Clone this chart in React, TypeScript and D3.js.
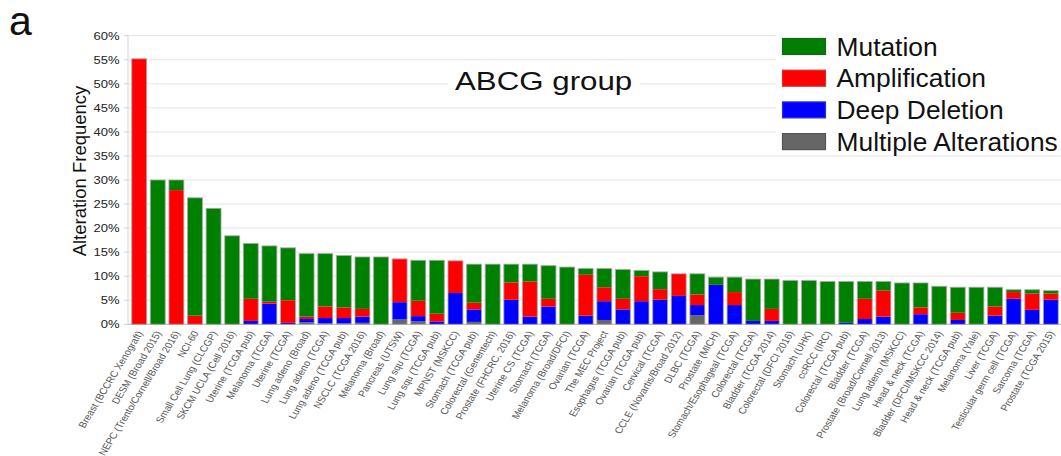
import React from "react";
import * as d3 from "d3";

// Cancer studies, ordered by total alteration frequency
const studies = [
  "Breast (BCCRC Xenograft)", "DESM (Broad 2015)", "NEPC (Trento/Cornell/Broad 2016)", "NCI-60",
  "Small Cell Lung (CLCGP)", "SKCM UCLA (Cell 2016)", "Uterine (TCGA pub)", "Melanoma (TCGA)",
  "Uterine (TCGA)", "Lung adeno (Broad)", "Lung adeno (TCGA)", "Lung adeno (TCGA pub)",
  "NSCLC (TCGA 2016)", "Melanoma (Broad)", "Pancreas (UTSW)", "Lung squ (TCGA)",
  "Lung squ (TCGA pub)", "MPNST (MSKCC)", "Stomach (TCGA pub)", "Colorectal (Genentech)",
  "Prostate (FHCRC, 2016)", "Uterine CS (TCGA)", "Stomach (TCGA)", "Melanoma (Broad/DFCI)",
  "Ovarian (TCGA)", "The MEC Project", "Esophagus (TCGA pub)", "Ovarian (TCGA pub)",
  "Cervical (TCGA)", "CCLE (Novartis/Broad 2012)", "DLBC (TCGA)", "Prostate (MICH)",
  "Stomach/Esophageal (TCGA)", "Colorectal (TCGA)", "Bladder (TCGA 2014)", "Colorectal (DFCI 2016)",
  "Stomach (UHK)", "ccRCC (IRC)", "Colorectal (TCGA pub)", "Bladder (TCGA)",
  "Prostate (Broad/Cornell 2013)", "Lung adeno (MSKCC)", "Head & neck (TCGA)", "Bladder (DFCI/MSKCC 2014)",
  "Head & neck (TCGA pub)", "Melanoma (Yale)", "Liver (TCGA)", "Testicular germ cell (TCGA)",
  "Sarcoma (TCGA)", "Prostate (TCGA 2015)",
];

// Alteration frequencies in percent
const mutation = [
  0, 30.0, 2.1, 24.5, 24.1, 18.4, 11.5, 11.6, 10.9, 13.1,
  11.0, 10.8, 10.8, 14.0, 0, 8.4, 11.1, 0, 8.0, 12.5,
  3.8, 3.6, 6.9, 11.9, 1.3, 3.9, 6.1, 1.2, 3.6, 0,
  4.3, 1.6, 3.1, 8.7, 6.2, 9.1, 9.1, 8.9, 8.6, 3.6,
  1.9, 8.6, 5.1, 7.9, 5.3, 7.7, 4.0, 0.5, 0.8, 0.6,
];
const amplification = [
  55.2, 0, 27.9, 1.8, 0, 0, 4.6, 0.4, 4.7, 0.5,
  2.4, 2.2, 1.6, 0, 9.0, 3.2, 1.6, 6.7, 1.4, 0,
  3.6, 7.3, 1.6, 0, 8.5, 2.9, 2.2, 5.2, 2.2, 4.6,
  2.2, 0, 2.7, 0, 2.5, 0, 0, 0, 0, 4.2,
  5.4, 0, 1.4, 0, 1.5, 0, 1.9, 1.4, 3.4, 1.3,
];
const deepDeletion = [
  0, 0, 0, 0, 0, 0, 0.7, 4.3, 0.3, 0.7,
  1.1, 1.1, 1.3, 0, 3.6, 1.1, 0.6, 6.5, 2.6, 0,
  5.1, 1.6, 3.7, 0, 1.8, 3.9, 3.1, 4.8, 5.1, 5.9,
  2.1, 8.2, 4.0, 0.7, 0.7, 0, 0, 0, 0.3, 1.1,
  1.6, 0, 2.1, 0, 0.9, 0, 1.8, 5.3, 3.0, 5.1,
];
const multipleAlterations = [
  0, 0, 0, 0, 0, 0, 0, 0, 0, 0.4,
  0.2, 0.2, 0.3, 0, 1.0, 0.6, 0, 0, 0.5, 0,
  0, 0, 0, 0, 0, 0.9, 0, 0, 0, 0,
  1.9, 0, 0, 0, 0, 0, 0, 0, 0, 0,
  0, 0, 0, 0, 0, 0, 0, 0, 0, 0,
];

const yTicks = [0, 5, 10, 15, 20, 25, 30, 35, 40, 45, 50, 55, 60];

const seriesKeys = ["multiple", "deletion", "amplification", "mutation"] as const;
const seriesColor: Record<string, string> = {
  mutation: "#008000",
  amplification: "#ff0000",
  deletion: "#0000ff",
  multiple: "#666666",
};
const legendItems = [
  { key: "mutation", label: "Mutation", fill: "#008000", stroke: "#1f5f1f" },
  { key: "amplification", label: "Amplification", fill: "#ff0000", stroke: "#cc3333" },
  { key: "deletion", label: "Deep Deletion", fill: "#0000ff", stroke: "#3333cc" },
  { key: "multiple", label: "Multiple Alterations", fill: "#666666", stroke: "#555555" },
];

const W = 1061;
const H = 456;
const FONT = "'Liberation Sans', Arial, Helvetica, sans-serif";

export default function App() {
  const rows = studies.map((s, i) => ({
    study: s,
    mutation: mutation[i],
    amplification: amplification[i],
    deletion: deepDeletion[i],
    multiple: multipleAlterations[i],
  }));

  const x = d3.scaleBand<string>().domain(studies).range([128, 1062]).paddingInner(0.2).paddingOuter(0.2);
  const y = d3.scaleLinear().domain([0, 60]).range([324.3, 35.7]);

  const stacked = d3.stack<any>().keys(seriesKeys as unknown as string[])(rows);
  const bw = x.bandwidth();
  const axisX = 128;

  return (
    <svg
      width={W}
      height={H}
      style={{ position: "absolute", left: 0, top: 0, display: "block", background: "#fff" }}
      fontFamily={FONT}
    >
      <rect x={0} y={0} width={W} height={H} fill="#fff" />

      {/* grid lines */}
      {yTicks.map((t) => (
        <line key={`g${t}`} x1={axisX} x2={W} y1={y(t)} y2={y(t)} stroke={t === 0 ? "#b5b5b5" : "#e6e6e6"} strokeWidth={1} />
      ))}
      <line x1={axisX} x2={axisX} y1={y(60)} y2={y(0)} stroke="#d6d6d6" strokeWidth={1} />

      {/* y ticks */}
      {yTicks.map((t) => (
        <g key={`t${t}`}>
          <line x1={axisX - 4} x2={axisX} y1={y(t)} y2={y(t)} stroke="#d0d0d0" />
          <text
            transform={`translate(119.5,${y(t)}) scale(1.18,1)`}
            textAnchor="end"
            dy="0.36em"
            fontSize={11}
            fill="#222"
          >
            {t}%
          </text>
        </g>
      ))}

      <text transform="translate(86,171) rotate(-90)" textAnchor="middle" fontSize={18.5} fill="#111">
        Alteration Frequency
      </text>

      {/* stacked bars */}
      {stacked.map((layer) => (
        <g key={layer.key} fill={seriesColor[layer.key]}>
          {layer.map((d, i) =>
            d[1] - d[0] > 0 ? (
              <rect
                key={i}
                x={x(studies[i])}
                y={y(d[1])}
                width={bw}
                height={y(d[0]) - y(d[1])}
              />
            ) : null
          )}
        </g>
      ))}
      {rows.map((r) => {
        const total = r.mutation + r.amplification + r.deletion + r.multiple;
        return (
          <rect
            key={`o${r.study}`}
            x={x(r.study)}
            y={y(total)}
            width={bw}
            height={y(0) - y(total)}
            fill="none"
            stroke="#a8a8a8"
            strokeOpacity={0.8}
            strokeWidth={1}
          />
        );
      })}

      {/* x labels */}
      {studies.map((s) => (
        <text
          key={`l${s}`}
          transform={`translate(${(x(s) as number) + bw / 2 + 4},333) scale(1.18,1) rotate(-62.5)`}
          textAnchor="end"
          fontSize={9}
          fill="#555"
        >
          {s}
        </text>
      ))}

      {/* title */}
      <rect x={448} y={64} width={192} height={32} fill="#fff" />
      <text transform="translate(455,90) scale(1.18,1)" fontSize={26.5} fill="#111">
        ABCG group
      </text>

      {/* legend */}
      <rect x={776} y={26} width={W - 776} height={128} fill="#fff" />
      {legendItems.map((it, i) => (
        <g key={it.key} transform={`translate(0,${i * 31.7})`}>
          <rect x={782.5} y={38.5} width={43} height={16} fill={it.fill} stroke={it.stroke} strokeWidth={1.2} />
          <text transform="translate(836.5,55.5) scale(1.055,1)" fontSize={25} fill="#111">
            {it.label}
          </text>
        </g>
      ))}

      <text x={9} y={35} fontSize={41} fill="#111">
        a
      </text>
    </svg>
  );
}
